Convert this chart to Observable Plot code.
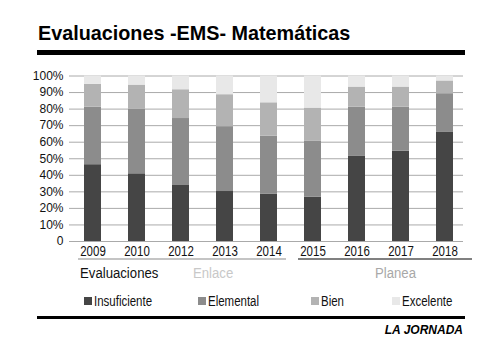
<!DOCTYPE html>
<html>
<head>
<meta charset="utf-8">
<script src="https://cdn.jsdelivr.net/npm/d3@7"></script>
<script src="https://cdn.jsdelivr.net/npm/@observablehq/plot@0.6"></script>
<style>
  html, body { margin: 0; padding: 0; background: #fff; }
  #wrap { position: relative; width: 500px; height: 358px; overflow: hidden; font-family: "Liberation Sans", Arial, sans-serif; }
  .abs { position: absolute; white-space: nowrap; line-height: 1; }
  .narrow { transform-origin: 0 0; }
  #chart { position: absolute; left: 0; top: 60px; }
  .sw { position: absolute; width: 8px; height: 8px; }
</style>
</head>
<body>
<div id="wrap">
  <div class="abs" style="left:38px; top:24.3px; font-size:19.8px; font-weight:bold; color:#000;">Evaluaciones -EMS- Matemáticas</div>
  <div class="abs" style="left:37px; top:50px; width:428px; height:5px; background:#000;"></div>
  <div id="chart"></div>
  <div class="abs" style="left:78px; top:258px; width:208px; height:2px; background:#c4c4c4;"></div>
  <div class="abs" style="left:298px; top:258px; width:174px; height:2px; background:#808080;"></div>
  <div class="abs narrow" style="left:80px; top:265px; font-size:15.5px; color:#111; transform:scaleX(0.85);">Evaluaciones</div>
  <div class="abs narrow" style="left:193px; top:265px; font-size:15.5px; color:#c8c8c8; transform:scaleX(0.85);">Enlace</div>
  <div class="abs narrow" style="left:375px; top:265px; font-size:15.5px; color:#a8a8a8; transform:scaleX(0.85);">Planea</div>
  <div id="legend"></div>
  <div class="abs" style="left:37px; top:316px; width:428px; height:3px; background:#000;"></div>
  <div class="abs" style="right:37px; top:324px; font-size:12px; font-weight:bold; font-style:italic; color:#000;">LA JORNADA</div>
</div>
<script>
const years = ["2009", "2010", "2012", "2013", "2014", "2015", "2016", "2017", "2018"];
const levels = ["Insuficiente", "Elemental", "Bien", "Excelente"];
const insuficiente = [46.4, 40.9, 34.2, 30.2, 28.5, 26.7, 51.4, 54.5, 66.2];
const elemental    = [34.8, 38.9, 40.1, 39.2, 35.1, 33.8, 29.8, 26.7, 23.1];
const bien         = [13.7, 14.7, 17.4, 19.3, 20.2, 20.1, 12.1, 12.1, 7.7];
const excelente    = [5.1, 5.5, 8.3, 11.3, 16.2, 19.4, 6.7, 6.7, 3.0];
const yTicks = [0, 10, 20, 30, 40, 50, 60, 70, 80, 90, 100];
const colors = ["#454545", "#8c8c8c", "#b3b3b3", "#e8e8e8"];

const series = [insuficiente, elemental, bien, excelente];
const data = [];
years.forEach((y, i) => {
  levels.forEach((l, j) => data.push({year: y, nivel: l, value: series[j][i]}));
});

const chart = Plot.plot({
  width: 500,
  height: 210,
  marginLeft: 69,
  marginRight: 37,
  marginTop: 15.5,
  marginBottom: 29,
  style: {fontFamily: "'Liberation Sans', Arial, sans-serif", background: "transparent"},
  x: {domain: years, range: [69, 467.6], paddingInner: 0.62, paddingOuter: 0.31, label: null},
  y: {domain: [0, 100], label: null},
  color: {domain: levels, range: colors},
  marks: [
    Plot.ruleY(yTicks, {stroke: "#aaaaaa", strokeWidth: 1}),
    Plot.barY(data, {x: "year", y: "value", fill: "nivel", order: null}),
    Plot.axisY(yTicks, {tickSize: 0, tickPadding: 6, fontSize: 12, fill: "#111",
      tickFormat: d => d === 0 ? "0" : d + "%", label: null}),
    Plot.axisX({tickSize: 0, tickPadding: 4.5, fontSize: 14, fill: "#111", label: null})
  ]
});
document.getElementById("chart").appendChild(chart);

// condense the year labels to match the narrow typeface
chart.querySelectorAll('g[aria-label="x-axis tick label"] text').forEach(t => {
  const w = t.getComputedTextLength();
  t.setAttribute("textLength", (w * 0.82).toFixed(2));
  t.setAttribute("lengthAdjust", "spacingAndGlyphs");
});

const legendPos = [84, 198, 311, 392];
const legend = document.getElementById("legend");
levels.forEach((l, i) => {
  const sw = document.createElement("div");
  sw.className = "sw";
  sw.style.left = legendPos[i] + "px";
  sw.style.top = "297px";
  sw.style.background = colors[i];
  legend.appendChild(sw);
  const t = document.createElement("div");
  t.className = "abs narrow";
  t.style.left = (legendPos[i] + 10) + "px";
  t.style.top = (305.5 - 0.8465 * 14) + "px";
  t.style.fontSize = "14px";
  t.style.color = "#111";
  t.style.transform = "scaleX(0.82)";
  t.textContent = l;
  legend.appendChild(t);
});
</script>
</body>
</html>
